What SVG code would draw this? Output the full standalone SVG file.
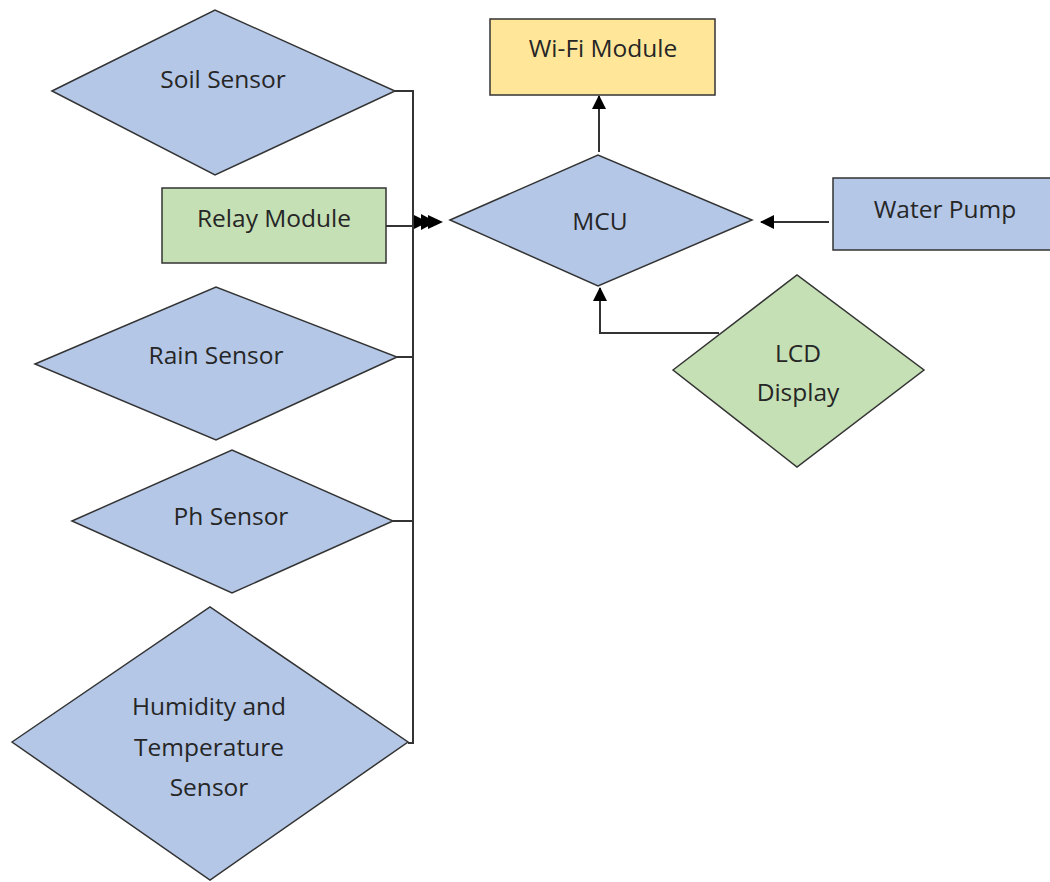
<svg xmlns="http://www.w3.org/2000/svg" width="1050" height="882" viewBox="0 0 1050 882">
<style>
.blue{fill:#b4c7e7;stroke:#333;stroke-width:1.5}
.green{fill:#c5e0b4;stroke:#333;stroke-width:1.5}
.yellow{fill:#ffe699;stroke:#333;stroke-width:1.5}
.t{font-family:"Open Sans","Noto Sans",sans-serif;font-size:24.5px;fill:#262626;text-anchor:middle}
.c{fill:none;stroke:#333;stroke-width:2}
</style>
<defs>
<marker id="ah" markerWidth="14" markerHeight="14" refX="13" refY="7" orient="auto" markerUnits="userSpaceOnUse" viewBox="0 0 14 14">
<path d="M0,0 L14,7 L0,14 z" fill="#000"/>
</marker>
</defs>
<rect width="1050" height="882" fill="#fff"/>
<g id="connectors">
<path class="c" d="M395,91 H413 V743 H408"/>
<path class="c" d="M397,357 H413"/>
<path class="c" d="M393,521 H413"/>
<path class="c" d="M386,226 H413"/>
<path d="M414,215 L428,222 L414,229 z M421,214 L436,222 L421,230 z M428,215 L443,222 L428,229 z" fill="#000"/>
<path class="c" d="M599,152 V96" marker-end="url(#ah)"/>
<path class="c" d="M829,222 H761" marker-end="url(#ah)"/>
<path class="c" d="M719,333 H600 V288" marker-end="url(#ah)"/>
</g>
<g id="soil"><polygon class="blue" points="52,91 215,10 395,91 215,175"/><text class="t" x="223" y="88">Soil Sensor</text></g>
<g id="relay"><rect class="green" x="162" y="188" width="224" height="75"/><text class="t" x="274" y="227">Relay Module</text></g>
<g id="rain"><polygon class="blue" points="35,364 216,287 397,357 216,440"/><text class="t" x="216" y="364">Rain Sensor</text></g>
<g id="ph"><polygon class="blue" points="72,521 232,450 393,521 232,593"/><text class="t" x="231" y="525">Ph Sensor</text></g>
<g id="humidity"><polygon class="blue" points="12,742 210,607 408,742 210,880"/><text class="t" x="209" y="715">Humidity and</text><text class="t" x="209" y="756">Temperature</text><text class="t" x="209" y="796">Sensor</text></g>
<g id="wifi"><rect class="yellow" x="490" y="19" width="225" height="76"/><text class="t" x="603" y="57">Wi-Fi Module</text></g>
<g id="mcu"><polygon class="blue" points="450,220 598,155 752,220 598,286"/><text class="t" x="600" y="230">MCU</text></g>
<g id="pump"><rect class="blue" x="833" y="178" width="220" height="72"/><text class="t" x="945" y="218">Water Pump</text></g>
<g id="lcd"><polygon class="green" points="673,370 797,275 924,370 797,467"/><text class="t" x="798" y="362">LCD</text><text class="t" x="798" y="401">Display</text></g>
</svg>
